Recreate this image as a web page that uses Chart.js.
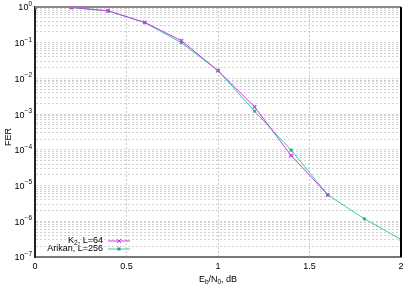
<!DOCTYPE html>
<html>
<head>
<meta charset="utf-8">
<script src="https://cdn.jsdelivr.net/npm/chart.js@4.4.0/dist/chart.umd.min.js"></script>
<style>
  html, body { margin: 0; padding: 0; background: #fff; }
  #wrap { width: 415px; height: 291px; }
</style>
</head>
<body>
<div id="wrap"><canvas id="myChart" width="415" height="291"></canvas></div>
<script>
// Eb/N0 points, dB
const snrK2 = [0, 0.2, 0.4, 0.6, 0.8, 1.0, 1.2, 1.4, 1.6];
const ferK2 = [1.0, 0.97, 0.78, 0.37, 0.114, 0.0165, 1.6e-3, 6.9e-5, 5.5e-6];

const snrArikan = [0, 0.2, 0.4, 0.6, 0.8, 1.0, 1.2, 1.4, 1.6, 1.8, 2.0];
const ferArikan = [1.0, 0.97, 0.78, 0.365, 0.10, 0.0165, 1.21e-3, 9.8e-5, 5.5e-6, 1.17e-6, 3.1e-7];

const xTicks = [0, 0.5, 1, 1.5, 2];
const yExponents = [0, -1, -2, -3, -4, -5, -6, -7];

const FONT = '"Liberation Sans", Arial, sans-serif';

function pts(xs, ys) {
    return xs.map((x, i) => ({ x: x, y: ys[i] }));
}

// frame, y labels, legend and axis titles in gnuplot style
const extras = {
    id: 'extras',
    afterDraw(chart) {
        const ctx = chart.ctx;
        const a = chart.chartArea;
        ctx.save();
        // top & right border
        ctx.strokeStyle = '#888';
        ctx.lineWidth = 2;
        ctx.beginPath();
        ctx.moveTo(a.left, a.top);
        ctx.lineTo(a.right, a.top);
        ctx.stroke();
        ctx.strokeStyle = '#000';
        ctx.beginPath();
        ctx.moveTo(a.right, a.top);
        ctx.lineTo(a.right, a.bottom);
        ctx.stroke();

        // y tick labels 10^e
        const ys = chart.scales.y;
        ctx.fillStyle = '#000';
        ctx.textBaseline = 'middle';
        ctx.textAlign = 'left';
        yExponents.forEach(e => {
            const py = ys.getPixelForValue(Math.pow(10, e));
            ctx.font = '6.5px ' + FONT;
            const ex = String(e).replace('-', '\u2212');
            const we = ctx.measureText(ex).width;
            ctx.font = '9px ' + FONT;
            const wb = ctx.measureText('10').width;
            const x0 = a.left - 3 - we - wb;
            ctx.fillText('10', x0, py + 1);
            ctx.font = '6.5px ' + FONT;
            ctx.fillText(ex, x0 + wb, py - 3);
        });

        // legend
        ctx.font = '9px ' + FONT;
        ctx.textAlign = 'right';
        ctx.textBaseline = 'middle';
        const rows = [241, 249];
        chart.data.datasets.forEach((ds, i) => {
            const y = rows[i];
            ctx.fillStyle = '#000';
            if (i === 0) {
                // K with subscript 2
                const rest = ', L=64';
                const wRest = ctx.measureText(rest).width;
                ctx.fillText(rest, 103, y);
                ctx.font = '6.5px ' + FONT;
                const w2 = ctx.measureText('2').width;
                ctx.fillText('2', 103 - wRest, y + 2);
                ctx.font = '9px ' + FONT;
                ctx.fillText('K', 103 - wRest - w2, y);
            } else {
                ctx.fillText(ds.label, 103, y);
            }
            ctx.strokeStyle = ds.borderColor;
            ctx.lineWidth = 1;
            ctx.beginPath();
            ctx.moveTo(108, y);
            ctx.lineTo(130, y);
            ctx.stroke();
            ctx.fillStyle = ds.backgroundColor;
            if (i === 0) {
                ctx.beginPath();
                ctx.moveTo(117, y - 2); ctx.lineTo(121, y + 2);
                ctx.moveTo(121, y - 2); ctx.lineTo(117, y + 2);
                ctx.stroke();
            } else {
                ctx.fillRect(117.5, y - 1.5, 3, 3);
            }
        });

        // x title: E_b/N_0, dB
        ctx.fillStyle = '#000';
        ctx.textAlign = 'left';
        const parts = [['E', 9, 0], ['b', 6.5, 2], ['/N', 9, 0], ['0', 6.5, 2], [', dB', 9, 0]];
        let total = 0;
        parts.forEach(p => { ctx.font = p[1] + 'px ' + FONT; total += ctx.measureText(p[0]).width; });
        let x = (a.left + a.right) / 2 - total / 2;
        parts.forEach(p => {
            ctx.font = p[1] + 'px ' + FONT;
            ctx.fillText(p[0], x, 280 + p[2]);
            x += ctx.measureText(p[0]).width;
        });

        // y title
        ctx.font = '9px ' + FONT;
        ctx.translate(9, 137);
        ctx.rotate(-Math.PI / 2);
        ctx.textAlign = 'center';
        ctx.fillText('FER', 0, 0);
        ctx.restore();
    }
};

const ctx = document.getElementById('myChart').getContext('2d');

new Chart(ctx, {
    type: 'line',
    data: {
        datasets: [{
            label: 'K2, L=64',
            data: pts(snrK2, ferK2),
            borderColor: '#c03ce8',
            backgroundColor: '#c03ce8',
            borderWidth: 1,
            pointStyle: 'crossRot',
            pointRadius: 2.5,
            pointBorderWidth: 1.2,
            tension: 0
        }, {
            label: 'Arikan, L=256',
            data: pts(snrArikan, ferArikan),
            borderColor: '#3cc8a0',
            backgroundColor: '#2a9a82',
            borderWidth: 1,
            pointStyle: 'rect',
            pointRadius: 1.8,
            pointBorderWidth: 0.5,
            tension: 0
        }]
    },
    options: {
        responsive: false,
        animation: false,
        layout: { padding: { top: 7, right: 14, left: 0, bottom: 0 } },
        plugins: {
            legend: { display: false },
            tooltip: { enabled: false }
        },
        scales: {
            x: {
                type: 'linear',
                min: 0,
                max: 2,
                afterBuildTicks: s => { s.ticks = xTicks.map(v => ({ value: v })); },
                afterFit: s => { s.height = 34; },
                ticks: {
                    color: '#000',
                    font: { family: FONT, size: 9 },
                    padding: 4,
                    maxRotation: 0,
                    callback: v => String(v)
                },
                grid: {
                    color: c => (c.tick && (c.tick.value === 0 || c.tick.value === 2)) ? 'rgba(0,0,0,0)' : '#bbb',
                    lineWidth: 0.8,
                    drawTicks: false
                },
                border: { color: '#777', width: 2, dash: [2, 2] }
            },
            y: {
                type: 'logarithmic',
                min: 1e-7,
                max: 1,
                afterBuildTicks: s => {
                    const t = [];
                    yExponents.forEach(e => {
                        for (let k = 1; k <= 9; k++) {
                            const v = k * Math.pow(10, e);
                            if (v <= 1.0000001 && v >= 1e-7 * 0.999) t.push({ value: v, major: k === 1 });
                        }
                    });
                    s.ticks = t;
                },
                afterFit: s => { s.width = 35; },
                ticks: {
                    display: false,
                    autoSkip: false
                },
                grid: {
                    color: c => {
                        if (!c.tick) return '#ccc';
                        const v = c.tick.value;
                        if (v >= 0.999 || v <= 1.001e-7) return 'rgba(0,0,0,0)';
                        return '#c4c4c4';
                    },
                    lineWidth: 0.8,
                    drawTicks: false
                },
                border: { color: '#222', width: 2, dash: [2, 2] }
            }
        }
    },
    plugins: [extras]
});
</script>
</body>
</html>
